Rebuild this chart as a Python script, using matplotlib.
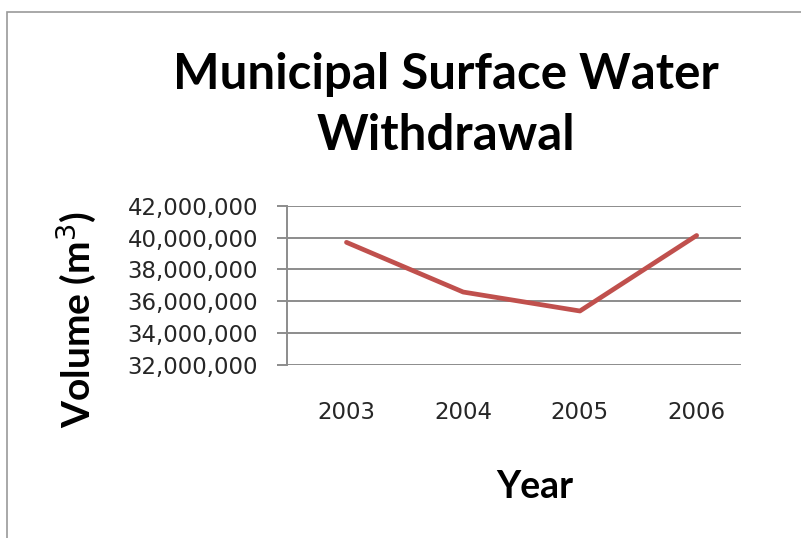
import matplotlib
matplotlib.use("Agg")
import matplotlib.pyplot as plt
from matplotlib.patches import Rectangle
from matplotlib.ticker import FuncFormatter

years = ["2003", "2004", "2005", "2006"]
volume = [39700000, 36580000, 35390000, 40130000]
y_ticks = [32000000, 34000000, 36000000, 38000000, 40000000, 42000000]

W, H = 801, 538
fig = plt.figure(figsize=(W / 100, H / 100), dpi=100)


def fx(px):
    return px / W


def fy(py):
    return 1 - py / H


# outer chart frame (left/top visible only)
fig.patches.append(Rectangle((fx(7), fy(560)), 1.2, fy(12) - fy(560),
                             transform=fig.transFigure, fill=False,
                             edgecolor="#9a9a9a", linewidth=1.2))

ax = fig.add_axes([fx(287.3), fy(365), fx(741) - fx(287.3), fy(205.7) - fy(365)])

x = list(range(len(years)))
ax.plot(x, volume, color="#C0504D", linewidth=3.4, solid_capstyle="round",
        zorder=3)

ax.set_ylim(32000000, 42000000)
ax.set_yticks(y_ticks)
ax.yaxis.set_major_formatter(FuncFormatter(lambda v, p: f"{int(v):,}"))
ax.set_xlim(-0.507, 3.38)
ax.set_xticks(x)
ax.set_xticklabels(years)

ax.grid(axis="y", color="#8c8c8c", linewidth=1.4)
ax.set_axisbelow(True)
for s in ["top", "right", "bottom"]:
    ax.spines[s].set_visible(False)
ax.spines["left"].set_color("#8c8c8c")
ax.spines["left"].set_linewidth(1.4)

ax.tick_params(axis="y", length=7, width=1.4, color="#8c8c8c", pad=14,
               labelsize=16.5, labelcolor="#262626")
ax.tick_params(axis="x", length=0, pad=26, labelsize=16.5, labelcolor="#262626")
for lab in ax.get_xticklabels() + ax.get_yticklabels():
    lab.set_family("DejaVu Sans")

fig.text(fx(446), fy(105), "Municipal Surface Water\nWithdrawal",
         ha="center", va="center", fontsize=35.5, family="Lato",
         fontweight="bold", linespacing=1.42, color="black")
fig.text(fx(76), fy(319), "Volume (m$^3$)", rotation=90, ha="center",
         va="center", fontsize=28, family="Lato", fontweight="bold")
fig.text(fx(535), fy(487), "Year", ha="center", va="center", fontsize=27,
         family="Lato", fontweight="bold")

fig.savefig("out.png", dpi=100)
